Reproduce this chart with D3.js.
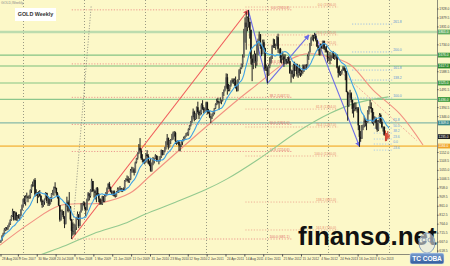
<!DOCTYPE html>
<html>
<head>
<meta charset="utf-8">
<script src="https://cdnjs.cloudflare.com/ajax/libs/d3/7.8.5/d3.min.js"></script>
<style>
html, body { margin: 0; padding: 0; background: #fcf8c8; }
svg { display: block; font-family: "Liberation Sans", Arial, sans-serif; }
</style>
</head>
<body>
<svg id="chart" width="450" height="266"></svg>
<script>
// weekly bars, first week starting 27 Aug 2007; open = previous close
const startWeek = '2007-08-27';
const firstOpen = 665;

const closes = [
  673,697,711,731,743,736,754,762,784,806,832,786,823,783,805,793,810,838,
  864,897,881,906,910,905,910,945,974,972,1000,922,930,915,925,914,888,865,882,897,930,887,903,871,904,928,931,962,958,928,913,864,786,829,832,800,763,866,880,832,857,787,725,724,738,745,795,815,752,825,838,872,
  879,853,838,896,928,913,945,995,940,940,930,955,923,900,880,870,912,886,915,930,955,980,960,937,932,940,915,912,937,952,955,955,948,952,955,995,1005,1003,992,1003,1050,1050,1058,1040,1095,1118,1145,1175,1160,1118,1110,1105,
  1096,1138,1130,1090,1083,1051,1092,1107,1117,1133,1103,1107,1107,1127,1162,1136,1156,1179,1209,1227,1177,1213,1217,1224,1255,1256,1212,1209,1208,1188,1182,1204,1215,1228,1236,1246,1246,1275,1296,1317,1345,1370,1328,1358,1394,1368,1351,1362,1405,1386,1378,1381,
  1420,1368,1361,1343,1340,1348,1362,1388,1410,1428,1420,1418,1428,1430,1474,1486,1504,1556,1492,1493,1512,1536,1542,1530,1540,1502,1483,1544,1594,1602,1628,1663,1744,1852,1828,1877,1856,1813,1657,1624,1635,1682,1642,1746,1753,1788,1725,1682,1746,1714,1598,1606,
  1565,1617,1640,1664,1726,1725,1725,1725,1773,1710,1710,1660,1662,1669,1630,1655,1642,1663,1643,1578,1591,1574,1622,1590,1628,1572,1604,1579,1590,1583,1619,1602,1622,1616,1670,1691,1740,1768,1774,1772,1780,1757,1723,1711,1677,1730,1714,1752,1711,1705,1696,1657,1657,
  1656,1662,1687,1657,1667,1667,1609,1580,1575,1578,1592,1608,1596,1582,1477,1405,1462,1470,1434,1385,1386,1392,1385,1388,1296,1234,1223,1283,1296,1322,1310,1313,1370,1396,1395,1387,1309,1333,1337,1310,1272,1315,1352,1315,1287,1288,1243,1251,1231,1236,1235
];
const highs = [
  675,702,715,740,745,746,755,770,788,810,845,822,830,828,811,815,815,842,
  868,900,915,918,932,915,920,950,976,992,1004,1011,950,935,940,946,918,895,890,900,935,932,912,890,908,930,947,965,988,958,935,915,864,840,840,832,805,875,910,890,935,860,790,770,765,760,800,830,780,830,875,876,
  885,880,840,900,935,920,950,1007,995,950,945,960,962,930,895,895,915,912,920,935,960,982,990,965,945,942,945,930,940,960,960,968,958,955,960,1000,1010,1025,1020,1010,1060,1072,1070,1065,1100,1120,1150,1195,1227,1170,1140,1112,
  1115,1145,1162,1140,1105,1120,1095,1125,1120,1140,1125,1130,1110,1130,1165,1162,1160,1180,1210,1249,1230,1215,1222,1250,1262,1265,1262,1212,1215,1205,1195,1210,1220,1235,1240,1255,1260,1280,1298,1320,1348,1387,1375,1360,1398,1424,1375,1380,1415,1432,1395,1392,
  1424,1424,1385,1375,1345,1360,1375,1390,1415,1440,1445,1425,1447,1435,1475,1490,1510,1577,1575,1520,1515,1540,1550,1550,1550,1560,1510,1545,1600,1610,1630,1680,1818,1880,1912,1885,1920,1837,1809,1675,1680,1700,1685,1750,1765,1803,1790,1730,1760,1760,1716,1625,
  1615,1625,1665,1670,1730,1765,1762,1738,1780,1792,1712,1715,1675,1695,1680,1680,1655,1665,1670,1645,1598,1595,1630,1640,1630,1630,1608,1625,1600,1595,1625,1625,1625,1628,1680,1695,1742,1776,1786,1785,1797,1790,1757,1730,1720,1738,1737,1755,1755,1723,1725,1700,1665,
  1693,1675,1695,1696,1678,1682,1680,1616,1620,1590,1598,1616,1615,1605,1590,1480,1472,1488,1475,1435,1415,1420,1420,1395,1395,1290,1265,1298,1300,1348,1330,1320,1378,1400,1434,1420,1390,1368,1345,1337,1325,1325,1362,1360,1330,1290,1290,1268,1255,1265,1248
];
const lows = [
  660,671,695,709,725,727,730,745,757,780,800,780,785,780,780,792,782,805,
  835,855,870,862,900,880,898,900,930,962,965,910,915,875,905,910,880,850,855,866,895,875,860,860,868,882,920,915,950,915,900,860,775,780,810,790,740,760,855,825,840,780,681,700,705,705,730,785,740,750,825,835,
  862,840,805,835,885,890,905,935,935,905,895,880,915,880,865,867,865,880,880,910,920,950,950,933,920,915,910,905,910,930,930,945,935,935,940,945,990,995,985,985,1000,1040,1040,1025,1040,1090,1110,1140,1150,1110,1095,1090,
  1085,1095,1125,1085,1075,1045,1045,1080,1090,1115,1100,1100,1085,1100,1120,1133,1135,1150,1165,1190,1165,1185,1195,1215,1218,1235,1195,1190,1195,1158,1155,1180,1190,1210,1220,1235,1240,1240,1270,1290,1310,1340,1318,1325,1330,1360,1330,1350,1355,1380,1360,1365,
  1375,1355,1360,1335,1308,1330,1345,1355,1385,1405,1410,1380,1415,1410,1425,1455,1480,1500,1462,1480,1480,1505,1525,1520,1510,1495,1478,1480,1540,1575,1600,1610,1665,1755,1705,1805,1825,1765,1625,1535,1600,1635,1605,1618,1675,1755,1710,1670,1680,1705,1590,1590,
  1523,1565,1605,1630,1655,1715,1715,1705,1725,1688,1685,1635,1630,1650,1612,1640,1625,1630,1630,1575,1527,1555,1548,1560,1595,1560,1553,1565,1558,1565,1575,1585,1600,1598,1615,1650,1690,1725,1755,1750,1765,1750,1720,1700,1673,1675,1710,1710,1705,1690,1690,1635,1645,
  1626,1645,1660,1655,1650,1660,1605,1555,1565,1563,1570,1590,1590,1540,1475,1321,1395,1445,1420,1360,1338,1372,1375,1365,1270,1180,1207,1225,1270,1285,1290,1270,1310,1355,1385,1365,1305,1295,1310,1277,1261,1265,1310,1305,1280,1262,1240,1210,1211,1220,1225
];

// slow moving averages
const salmonDates = ['2007-08-25','2008-02-19','2008-08-15','2009-04-09','2009-10-05','2010-01-31','2010-11-24','2011-09-17','2012-07-10','2013-01-04','2013-05-02','2013-09-16','2014-02-23','2014-07-09'];
const salmonValues = [648, 767, 862, 876, 930, 1022, 1260, 1487, 1676, 1666, 1625, 1487, 1357, 1190];
const greenDates = ['2008-01-01','2008-09-01','2009-03-01','2009-09-01','2010-01-01','2010-07-01','2011-01-01','2011-05-01','2011-11-01','2012-07-01','2013-01-01','2013-06-01','2013-12-16'];
const greenValues = [560, 640, 710, 765, 815, 880, 950, 1005, 1110, 1265, 1360, 1415, 1450];
const maPeriod = 13;

// horizontal levels
const levelPrices = [1801, 1676, 1617, 1525, 1436, 1309, 1184];

// fibo retracement 2008 low -> 2011 high
const fib1Pct = ['0.0', '23.6', '38.2', '50.0', '61.8', '100.0'];
const fib1Prices = [1920.8, 1628.4, 1447.5, 1301.0, 1154.6, 681.1];
const fib1Span = ['2008-10-24', '2012-05-20'];
// second fibo set
const fib2Pct = ['0.0', '23.6', '38.2', '61.8', '76.4', '100.0', '138.2', '161.8'];
const fib2Prices = [1936.0, 1785.0, 1731.0, 1384.0, 1287.0, 1130.0, 881.0, 730.0];
const fib2Span = ['2011-08-20', '2013-02-20'];
// blue expansion levels
const fib3Pct = ['261.8', '200.0', '161.8', '138.2', '100.0', '61.8'];
const fib3Prices = [1844, 1693, 1595, 1541, 1444, 1314];
const fib3Span = ['2013-05-14', '2014-01-07'];
const fib4Pct = ['50.0', '38.2', '23.6', '0.0', '23.6'];
const fib4Prices = [1281, 1254, 1222, 1195, 1162];
const fib4Span = ['2013-09-20', '2014-01-07'];

// drawn lines
const redTrend = [['2008-10-24', 681], ['2011-09-06', 1920]];
const gannLine = [['2008-10-24', 681], ['2009-02-16', 1942]];
const purpleLines = [
  [['2011-09-06', 1920], ['2011-12-29', 1523]],
  [['2011-12-29', 1523], ['2012-09-01', 1785]],
  [['2012-10-04', 1795], ['2013-06-28', 1180]]
];
const pinkDiag = [['2012-10-20', 1700], ['2014-06-01', 1215]];

// axes
const priceTicks = [1928.0, 1879.5, 1831.0, 1782.5, 1734.0, 1685.5, 1637.0, 1588.5, 1540.0, 1491.5, 1443.0, 1394.5, 1346.0, 1297.5, 1249.0, 1200.5, 1152.0, 1103.5, 1055.0, 1006.5, 958.0, 909.5, 861.0, 812.5, 764.0, 715.5, 667.0, 618.5];
const dateTicks = ['28 Aug 2007','9 Dec 2007','30 Mar 2008','20 Jul 2008','9 Nov 2008','1 Mar 2009','21 Jun 2009','11 Oct 2009','31 Jan 2010','23 May 2010','12 Sep 2010','2 Jan 2011','24 Apr 2011','14 Aug 2011','4 Dec 2011','25 Mar 2012','15 Jul 2012','4 Nov 2012','24 Feb 2013','16 Jun 2013','6 Oct 2013'];
const gridDates = ['2008-01-09','2009-01-05','2010-01-01','2010-12-29','2011-12-26','2012-12-22','2013-12-20'];

// styles
const levelStyle = [
  { c: '#bcdcae', w: 2.6, box: '#62ad62' },
  { c: '#84c384', w: 1.2, box: '#3f9a3f' },
  { c: '#7abd7a', w: 1.2, box: '#2f8a2f' },
  { c: '#84c384', w: 1.2, box: '#3f9a3f' },
  { c: '#8cc68c', w: 1.2, box: '#3f9a3f' },
  { c: '#86b8a8', w: 1.2, box: '#3b8b8b' },
  { c: '#f6c45e', w: 1.8, box: '#f0a52a' }
];

const plotW = 437, plotH = 254;
const parse = d3.timeParse('%Y-%m-%d');
const parseTick = d3.timeParse('%d %b %Y');

const x = d3.scaleTime().domain([parse('2007-08-25'), parse('2014-09-30')]).range([0, plotW]);
const y = d3.scaleLinear().domain([600, 1974.1]).range([plotH, 0]);

const svg = d3.select('#chart');

svg.append('rect').attr('width', 450).attr('height', 266).attr('fill', '#fcf8c8');

const defs = svg.append('defs');
defs.append('clipPath').attr('id', 'plot')
  .append('rect').attr('width', plotW).attr('height', plotH);
function arrow(id, color) {
  defs.append('marker').attr('id', id)
    .attr('viewBox', '0 0 10 10').attr('refX', 9).attr('refY', 5)
    .attr('markerWidth', 5).attr('markerHeight', 5).attr('orient', 'auto')
    .append('path').attr('d', 'M0,0L10,5L0,10z').attr('fill', color);
}
arrow('arRed', '#f05a5a');
arrow('arPurple', '#6c6ce6');
const grad = defs.append('linearGradient').attr('id', 'logo').attr('x1', 0).attr('y1', 0).attr('x2', 0).attr('y2', 1);
grad.append('stop').attr('offset', 0).attr('stop-color', '#7a9fd0');
grad.append('stop').attr('offset', 1).attr('stop-color', '#2f5a9c');

const plot = svg.append('g').attr('clip-path', 'url(#plot)');

// vertical grid
plot.selectAll('line.vgrid').data(gridDates).enter().append('line')
  .attr('class', 'vgrid')
  .attr('x1', d => Math.round(x(parse(d))) + 0.5).attr('x2', d => Math.round(x(parse(d))) + 0.5)
  .attr('y1', 0).attr('y2', plotH)
  .attr('stroke', '#8e8e7c').attr('stroke-width', 0.9).attr('stroke-dasharray', '1,2');

// horizontal levels
plot.selectAll('line.level').data(levelPrices).enter().append('line')
  .attr('class', 'level')
  .attr('x1', 0).attr('x2', plotW)
  .attr('y1', d => y(d)).attr('y2', d => y(d))
  .attr('stroke', (d, i) => levelStyle[i].c)
  .attr('stroke-width', (d, i) => levelStyle[i].w);

// fibo sets
function fibSet(pcts, prices, span, color, labelColor, labelAtEnd) {
  const x0 = x(parse(span[0])), x1 = x(parse(span[1]));
  const g = plot.append('g');
  g.selectAll('line').data(prices).enter().append('line')
    .attr('x1', x0).attr('x2', x1)
    .attr('y1', d => y(d)).attr('y2', d => y(d))
    .attr('stroke', color).attr('stroke-width', 0.8).attr('stroke-dasharray', '1.2,1.6');
  g.selectAll('text').data(prices).enter().append('text')
    .attr('x', labelAtEnd ? x1 + 1 : x1 - 2)
    .attr('y', d => y(d) - 0.8)
    .attr('text-anchor', labelAtEnd ? 'start' : 'end')
    .attr('font-size', 3.4)
    .attr('fill', labelColor)
    .text((d, i) => labelAtEnd ? pcts[i] : `${pcts[i]} (${d3.format('.1f')(d)})`);
}
fibSet(fib1Pct, fib1Prices, fib1Span, '#e88080', '#e06a6a', false);
fibSet(fib2Pct, fib2Prices, fib2Span, '#eba08c', '#e88a70', false);
fibSet(fib3Pct, fib3Prices, fib3Span, '#8ab4e8', '#5b92d8', true);
fibSet(fib4Pct, fib4Prices, fib4Span, '#9cc4ee', '#6aa0e0', true);

// moving averages
const maLine = d3.line().x(d => x(d.date)).y(d => y(d.v)).curve(d3.curveCatmullRom);
plot.append('path')
  .datum(salmonDates.map((d, i) => ({ date: parse(d), v: salmonValues[i] })))
  .attr('d', maLine).attr('fill', 'none')
  .attr('stroke', '#f29282').attr('stroke-width', 1.1);
plot.append('path')
  .datum(greenDates.map((d, i) => ({ date: parse(d), v: greenValues[i] })))
  .attr('d', maLine).attr('fill', 'none')
  .attr('stroke', '#93c98f').attr('stroke-width', 1.1);

// straight lines
function seg(pts, color, width, dash, marker) {
  const p = plot.append('line')
    .attr('x1', x(parse(pts[0][0]))).attr('y1', y(pts[0][1]))
    .attr('x2', x(parse(pts[1][0]))).attr('y2', y(pts[1][1]))
    .attr('stroke', color).attr('stroke-width', width);
  if (dash) p.attr('stroke-dasharray', dash);
  if (marker) p.attr('marker-end', `url(#${marker})`);
}
seg(pinkDiag, '#efa594', 0.9, '2,1.5');
seg(gannLine, '#8c8c80', 0.8, '1.2,1.5');
seg(redTrend, '#f05a5a', 1.1, null, 'arRed');
purpleLines.forEach((p, i) => seg(p, '#6c6ce6', 1.1, null, i ? 'arPurple' : null));

// candles
const start = parse(startWeek);
const bars = closes.map((c, i) => {
  const o = i ? closes[i - 1] : firstOpen;
  return {
    date: d3.timeDay.offset(start, 7 * i),
    o, c,
    h: Math.max(highs[i], o, c),
    l: Math.min(lows[i], o, c)
  };
});
const nRed = 4;
const cg = plot.append('g');
cg.selectAll('line').data(bars).enter().append('line')
  .attr('x1', d => x(d.date) + 0.5).attr('x2', d => x(d.date) + 0.5)
  .attr('y1', d => y(d.h)).attr('y2', d => y(d.l))
  .attr('stroke', (d, i) => i >= bars.length - nRed ? '#c83a2a' : '#1e1e1e')
  .attr('stroke-width', 1);
cg.selectAll('rect').data(bars).enter().append('rect')
  .attr('x', d => x(d.date) - 0.3)
  .attr('width', 1.6)
  .attr('y', d => y(Math.max(d.o, d.c)))
  .attr('height', d => Math.max(0.6, Math.abs(y(d.o) - y(d.c))))
  .attr('fill', (d, i) => i >= bars.length - nRed ? '#e04a3a' : (d.c >= d.o ? '#6a6a64' : '#161616'));

// short blue average
const blueMA = bars.map((b, i) => ({
  date: b.date,
  v: d3.mean(closes.slice(Math.max(0, i - maPeriod + 1), i + 1))
}));
plot.append('path').datum(blueMA)
  .attr('d', d3.line().x(d => x(d.date) + 0.5).y(d => y(d.v)))
  .attr('fill', 'none').attr('stroke', '#3ea2e6').attr('stroke-width', 1.1);

// frame lines
svg.append('line').attr('x1', plotW + 0.5).attr('x2', plotW + 0.5).attr('y1', 0).attr('y2', plotH)
  .attr('stroke', '#6e6e66').attr('stroke-width', 0.8);
svg.append('line').attr('x1', 0).attr('x2', plotW).attr('y1', plotH + 0.5).attr('y2', plotH + 0.5)
  .attr('stroke', '#6e6e66').attr('stroke-width', 0.8);

// level boxes on axis (last one = current price)
const boxes = levelPrices.map((p, i) => ({ p, fill: levelStyle[i].box }));
boxes.push({ p: closes[closes.length - 1], fill: '#1e1e1e' });

// right axis; tick labels hidden under a level box are left out
const freeTicks = priceTicks.filter(t => boxes.every(b => Math.abs(y(b.p) - y(t)) > 5));
const ra = svg.append('g').attr('transform', `translate(${plotW},0)`);
ra.call(d3.axisRight(y).tickValues(freeTicks).tickSize(1.5).tickFormat(d3.format('.1f')))
  .call(g => g.select('.domain').remove())
  .call(g => g.selectAll('line').attr('stroke', '#555'))
  .call(g => g.selectAll('text').attr('font-size', 3.3).attr('fill', '#444').attr('x', 2.3));

const bg = svg.append('g');
bg.selectAll('rect').data(boxes).enter().append('rect')
  .attr('x', plotW + 1).attr('y', d => y(d.p) - 2.4)
  .attr('width', 12).attr('height', 4.8).attr('fill', d => d.fill);
bg.selectAll('text').data(boxes).enter().append('text')
  .attr('x', plotW + 1.6).attr('y', d => y(d.p) + 1.2)
  .attr('font-size', 3.3).attr('fill', '#fff')
  .text(d => d3.format('.1f')(d.p));

// bottom axis
const ba = svg.append('g').attr('transform', `translate(0,${plotH})`);
ba.call(d3.axisBottom(x).tickValues(dateTicks.map(parseTick)).tickSize(2.5).tickFormat(d3.timeFormat('%-d %b %Y')))
  .call(g => g.select('.domain').remove())
  .call(g => g.selectAll('line').attr('stroke', '#555'))
  .call(g => g.selectAll('text').attr('font-size', 3.2).attr('fill', '#444')
    .attr('text-anchor', 'start').attr('dx', 1).attr('y', 4));

// chart title
svg.append('text').attr('x', 1).attr('y', 3.5).attr('font-size', 3.5).attr('fill', '#888')
  .text('GOLD,Weekly');
svg.append('rect').attr('x', 15).attr('y', 8).attr('width', 41).attr('height', 13).attr('fill', '#ffffff');
svg.append('text').attr('x', 35.5).attr('y', 16.3).attr('text-anchor', 'middle')
  .attr('font-size', 5.4).attr('font-weight', 'bold').attr('fill', '#333')
  .text('GOLD Weekly');

// watermark
svg.append('text').attr('x', 298).attr('y', 245)
  .attr('font-size', 26).attr('font-weight', 'bold').attr('fill', '#111')
  .text('finanso.net');

// logo
const logo = svg.append('g');
logo.append('ellipse').attr('cx', 427).attr('cy', 243).attr('rx', 8).attr('ry', 10)
  .attr('fill', '#dfe6ea').attr('fill-opacity', 0.6).attr('stroke', '#8aa2be').attr('stroke-width', 1);
logo.append('circle').attr('cx', 424).attr('cy', 240).attr('r', 2).attr('fill', 'none').attr('stroke', '#7890b0').attr('stroke-width', 0.8);
logo.append('circle').attr('cx', 430).attr('cy', 240).attr('r', 2).attr('fill', 'none').attr('stroke', '#7890b0').attr('stroke-width', 0.8);
logo.append('rect').attr('x', 410).attr('y', 253).attr('width', 34).attr('height', 11).attr('rx', 2)
  .attr('fill', 'url(#logo)').attr('stroke', '#dbe4f0').attr('stroke-width', 0.6);
logo.append('text').attr('x', 427).attr('y', 261).attr('text-anchor', 'middle')
  .attr('font-size', 6.6).attr('font-weight', 'bold').attr('fill', '#ffffff')
  .text('ТС СОВА');
</script>
</body>
</html>
